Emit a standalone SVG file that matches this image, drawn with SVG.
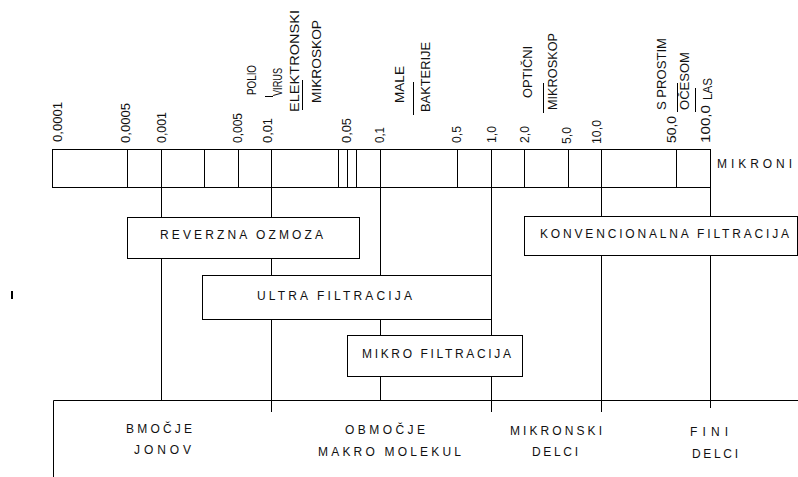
<svg xmlns="http://www.w3.org/2000/svg" width="798" height="477" viewBox="0 0 798 477">
<style>
  .ln{stroke:#000;stroke-width:1;fill:none}
  .bx{stroke:#000;stroke-width:1;fill:#fff}
  text{font-family:"Liberation Sans",Arial,sans-serif;font-size:12px;fill:#111}
  .r{font-size:12px}
</style>
<rect width="798" height="477" fill="#fff"/>
<!-- scale bar -->
<g id="scale">
  <rect class="ln" x="52.5" y="149.5" width="658" height="38"/>
  <path class="ln" d="M127.5 149.5V187.5M161.5 149.5V187.5M204.5 149.5V187.5M238.5 149.5V187.5M271.5 149.5V187.5M338.5 149.5V187.5M347.5 149.5V187.5M356.5 149.5V187.5M380.5 149.5V187.5M457.5 149.5V187.5M491.5 149.5V187.5M524.5 149.5V187.5M568.5 149.5V187.5M601.5 149.5V187.5M676.5 149.5V187.5"/>
  <text x="717" y="168" textLength="75" lengthAdjust="spacing">MIKRONI</text>
</g>
<!-- rotated labels -->
<g id="labels">
  <text transform="translate(62,142) rotate(-90)" textLength="40" lengthAdjust="spacingAndGlyphs">0,0001</text>
  <text transform="translate(130,143) rotate(-90)" textLength="40" lengthAdjust="spacingAndGlyphs">0,0005</text>
  <text transform="translate(166,143) rotate(-90)" textLength="31" lengthAdjust="spacingAndGlyphs">0,001</text>
  <text transform="translate(242,143) rotate(-90)" textLength="30" lengthAdjust="spacingAndGlyphs">0,005</text>
  <text transform="translate(256,95) rotate(-90)" textLength="30" lengthAdjust="spacingAndGlyphs">POLIO</text>
  <text transform="translate(272,143) rotate(-90)" textLength="25" lengthAdjust="spacingAndGlyphs">0,01</text>
  <text transform="translate(282,96) rotate(-90)" textLength="28" lengthAdjust="spacingAndGlyphs">VIRUS</text>
  <text transform="translate(299,112) rotate(-90)" textLength="102" lengthAdjust="spacingAndGlyphs">ELEKTRONSKI</text>
  <text transform="translate(321,103) rotate(-90)" textLength="83" lengthAdjust="spacingAndGlyphs">MIKROSKOP</text>
  <text transform="translate(351,143) rotate(-90)" textLength="25" lengthAdjust="spacingAndGlyphs">0,05</text>
  <text transform="translate(384,143) rotate(-90)" textLength="16" lengthAdjust="spacingAndGlyphs">0,1</text>
  <text transform="translate(404,103) rotate(-90)" textLength="37" lengthAdjust="spacingAndGlyphs">MALE</text>
  <text transform="translate(430,112) rotate(-90)" textLength="70" lengthAdjust="spacingAndGlyphs">BAKTERIJE</text>
  <text transform="translate(461,143) rotate(-90)" textLength="17" lengthAdjust="spacingAndGlyphs">0,5</text>
  <text transform="translate(496,143) rotate(-90)" textLength="17" lengthAdjust="spacingAndGlyphs">1,0</text>
  <text transform="translate(529,143) rotate(-90)" textLength="17" lengthAdjust="spacingAndGlyphs">2,0</text>
  <text transform="translate(532,98) rotate(-90)" textLength="52" lengthAdjust="spacingAndGlyphs">OPTIČNI</text>
  <text transform="translate(557,110) rotate(-90)" textLength="77" lengthAdjust="spacingAndGlyphs">MIKROSKOP</text>
  <text transform="translate(571,144) rotate(-90)" textLength="17" lengthAdjust="spacingAndGlyphs">5,0</text>
  <text transform="translate(601,144) rotate(-90)" textLength="24" lengthAdjust="spacingAndGlyphs">10,0</text>
  <text transform="translate(666,110) rotate(-90)" textLength="72" lengthAdjust="spacingAndGlyphs">S PROSTIM</text>
  <text transform="translate(676,143) rotate(-90)" textLength="27" lengthAdjust="spacingAndGlyphs">50,0</text>
  <text transform="translate(689,110) rotate(-90)" textLength="58" lengthAdjust="spacingAndGlyphs">OČESOM</text>
  <text transform="translate(712,100) rotate(-90)" textLength="22" lengthAdjust="spacingAndGlyphs">LAS</text>
  <text transform="translate(710,143) rotate(-90)" textLength="38" lengthAdjust="spacingAndGlyphs">100,0</text>
  <path class="ln" d="M265 96.5H273M302.5 80V110M413.5 82V115M543.5 83V113M677.5 83V112M695.5 88V112"/>
</g>
<!-- connectors -->
<g id="connectors">
  <path class="ln" d="M161.5 187.5V400.5M271.5 187.5V412M380.5 187.5V400.5M491.5 187.5V412M601.5 187.5V412M710.5 187.5V408"/>
  <path class="ln" d="M53.5 400.5H798M53.5 400.5V477"/>
  <rect x="11" y="291" width="2" height="8" fill="#000"/>
</g>
<g id="reverzna">
  <rect class="bx" x="127.5" y="217.5" width="232" height="41"/>
  <text x="160" y="239" textLength="163" lengthAdjust="spacing">REVERZNA OZMOZA</text>
</g>
<g id="ultra">
  <rect class="bx" x="202.5" y="275.5" width="289" height="44"/>
  <text x="257" y="300" textLength="155" lengthAdjust="spacing">ULTRA  FILTRACIJA</text>
</g>
<g id="mikro">
  <rect class="bx" x="347.5" y="335.5" width="175" height="41"/>
  <text x="362" y="358" textLength="149" lengthAdjust="spacing">MIKRO FILTRACIJA</text>
</g>
<g id="konv">
  <rect class="bx" x="524.5" y="216.5" width="273" height="39"/>
  <text x="540" y="238" textLength="249" lengthAdjust="spacing">KONVENCIONALNA FILTRACIJA</text>
</g>
<g id="zones">
  <text x="126" y="433" textLength="66" lengthAdjust="spacing">BMOČJE</text>
  <text x="134" y="454" textLength="57" lengthAdjust="spacing">JONOV</text>
  <text x="345" y="434" textLength="80" lengthAdjust="spacing">OBMOČJE</text>
  <text x="318" y="456" textLength="143" lengthAdjust="spacing">MAKRO MOLEKUL</text>
  <text x="510" y="435" textLength="92" lengthAdjust="spacing">MIKRONSKI</text>
  <text x="532" y="456" textLength="46" lengthAdjust="spacing">DELCI</text>
  <text x="690" y="436" textLength="38" lengthAdjust="spacing">FINI</text>
  <text x="692" y="458" textLength="46" lengthAdjust="spacing">DELCI</text>
</g>
</svg>
